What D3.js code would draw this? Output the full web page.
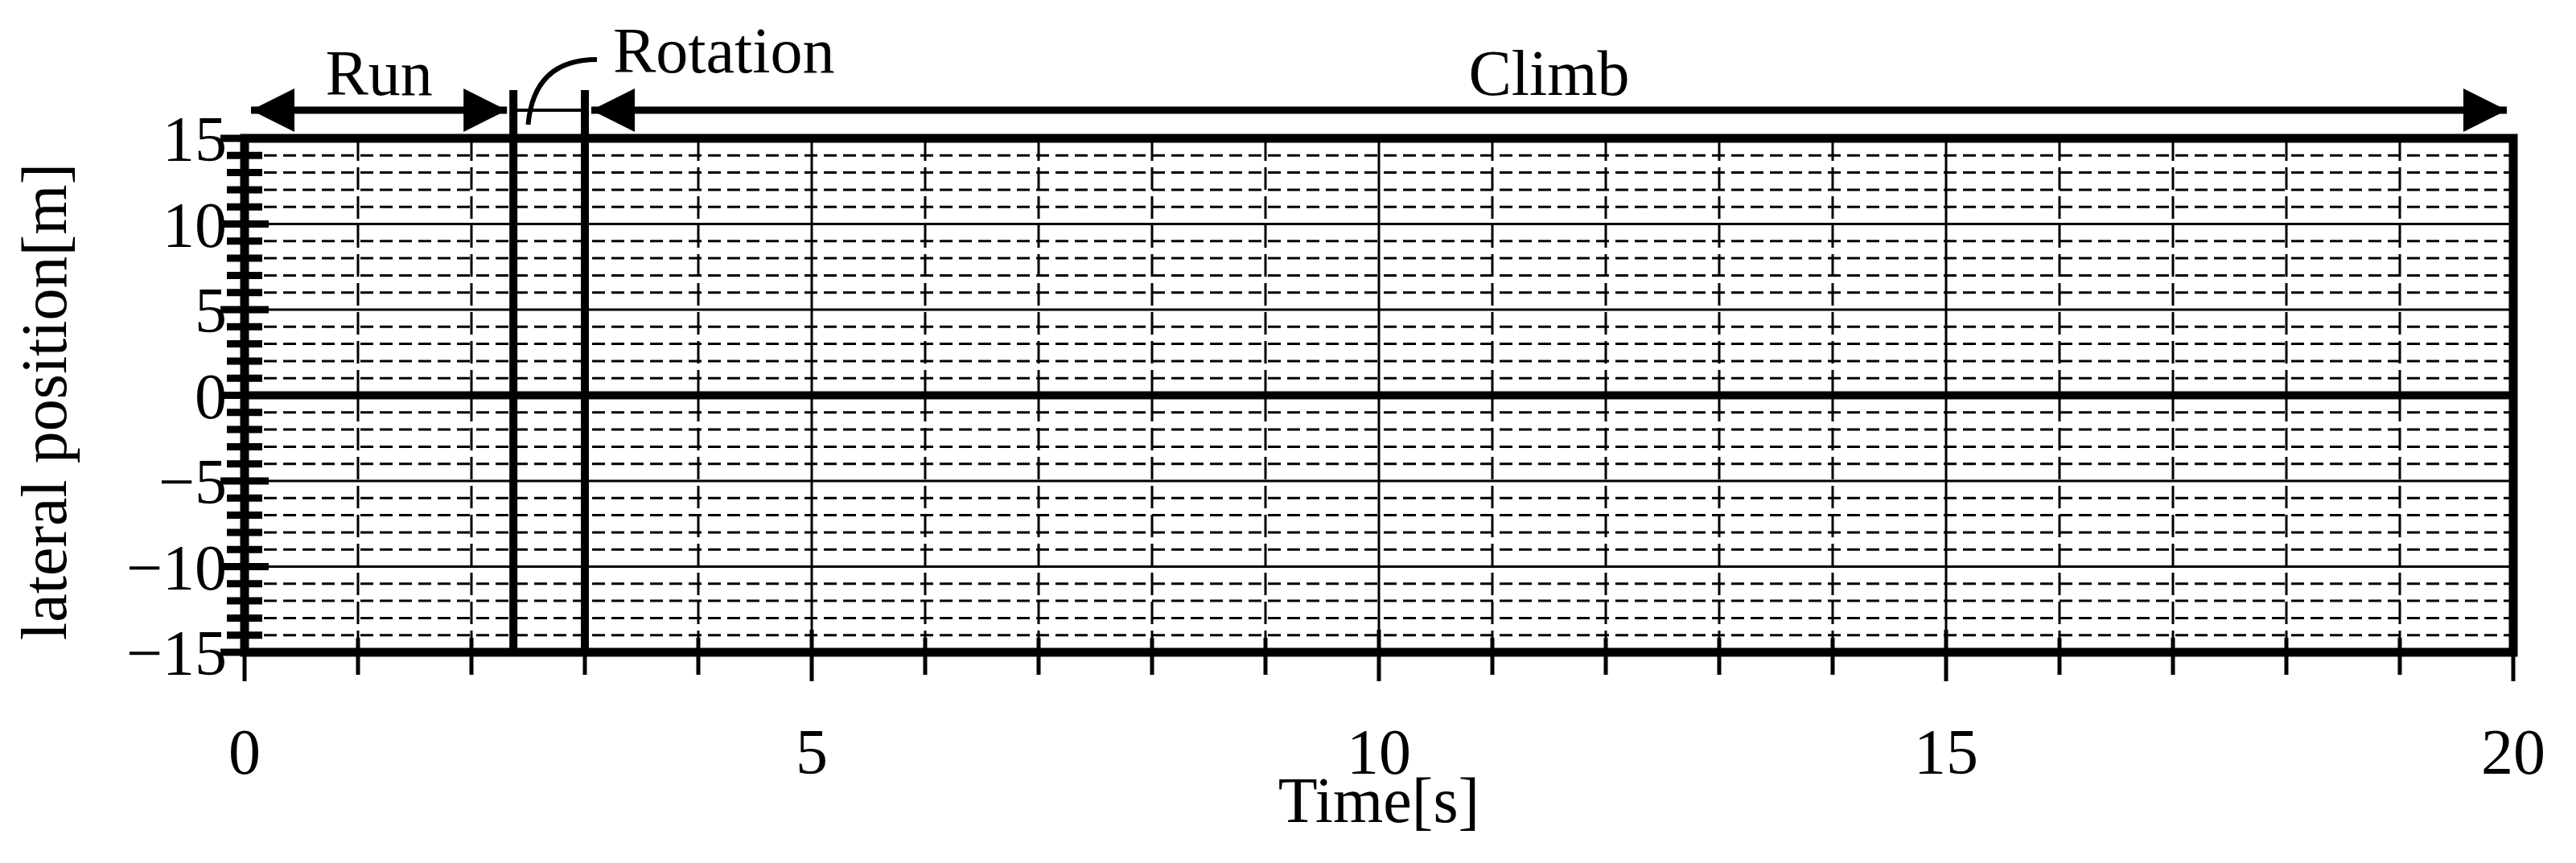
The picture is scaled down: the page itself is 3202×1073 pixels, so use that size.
<!DOCTYPE html>
<html><head><meta charset="utf-8">
<script src="https://cdn.jsdelivr.net/npm/d3@7"></script>
<style>body{margin:0;background:#fff}text{font-family:"Liberation Serif","DejaVu Serif",serif;fill:#000}</style>
</head><body><svg id="chart" width="3202" height="1073"></svg>
<script>
const xDomain = [0, 20];
const yDomain = [-15, 15];
const xLabels = [0, 5, 10, 15, 20];
const yLabels = [-15, -10, -5, 0, 5, 10, 15];
const phaseNames = ["Run", "Rotation", "Climb"];
const phaseBounds = [0, 2.37, 3.0, 20];

const svg = d3.select('#chart');
const x = d3.scaleLinear().domain(xDomain).range([304, 3124]);
const y = d3.scaleLinear().domain(yDomain).range([811, 172]);
const g = svg.append('g');
const fs = 80;

// grid
d3.range(xDomain[0] + 1, xDomain[1]).forEach(v => {
  g.append('line').attr('x1', x(v)).attr('x2', x(v)).attr('y1', y(15)).attr('y2', y(-15))
    .attr('stroke', '#000').attr('stroke-width', 3)
    .attr('stroke-dasharray', v % 5 === 0 ? null : '28,8');
});
d3.range(yDomain[0] + 1, yDomain[1]).forEach(v => {
  g.append('line').attr('x1', x(0)).attr('x2', x(20)).attr('y1', y(v)).attr('y2', y(v))
    .attr('stroke', '#000').attr('stroke-width', v === 0 ? 10 : 3)
    .attr('stroke-dasharray', v % 5 === 0 ? null : '16,8');
});

// y ticks (crossing the axis)
d3.range(yDomain[0], yDomain[1] + 1).forEach(v => {
  const major = v % 5 === 0;
  g.append('line').attr('x1', x(0) - (major ? 30 : 22)).attr('x2', x(0) + (major ? 30 : 22))
    .attr('y1', y(v)).attr('y2', y(v)).attr('stroke', '#000').attr('stroke-width', 9);
});
// x ticks
d3.range(xDomain[0], xDomain[1] + 1).forEach(v => {
  const major = v % 5 === 0;
  g.append('line').attr('x1', x(v)).attr('x2', x(v))
    .attr('y1', y(-15) - (major ? 28 : 18)).attr('y2', y(-15) + (major ? 36 : 28))
    .attr('stroke', '#000').attr('stroke-width', 5);
});

// frame
g.append('rect').attr('x', x(0)).attr('y', y(15)).attr('width', x(20) - x(0)).attr('height', y(-15) - y(15))
  .attr('fill', 'none').attr('stroke', '#000').attr('stroke-width', 11);

// phase boundaries
[phaseBounds[1], phaseBounds[2]].forEach(v => {
  g.append('line').attr('x1', x(v)).attr('x2', x(v)).attr('y1', 112).attr('y2', y(-15))
    .attr('stroke', '#000').attr('stroke-width', 10);
});

// tick labels
g.selectAll('.xl').data(xLabels).enter().append('text')
  .attr('x', d => x(d)).attr('y', 962).attr('text-anchor', 'middle').attr('font-size', fs).text(d => d);
g.selectAll('.yl').data(yLabels).enter().append('text')
  .attr('x', 282).attr('y', d => y(d) + 28).attr('text-anchor', 'end').attr('font-size', fs)
  .text(d => d < 0 ? '\u2212' + Math.abs(d) : d);

g.append('text').attr('x', x(10)).attr('y', 1022).attr('text-anchor', 'middle').attr('font-size', fs).text('Time[s]');
g.append('text').attr('transform', `translate(82,${(y(15) + y(-15)) / 2 + 8}) rotate(-90)`)
  .attr('text-anchor', 'middle').attr('font-size', fs).text('lateral position[m]');

// phase arrows
const defs = svg.append('defs');
defs.append('marker').attr('id', 'ah').attr('viewBox', '0 0 10 10').attr('refX', 10).attr('refY', 5)
  .attr('markerWidth', 6).attr('markerHeight', 6).attr('markerUnits', 'strokeWidth').attr('orient', 'auto-start-reverse')
  .append('path').attr('d', 'M0,0L10,5L0,10Z').attr('fill', '#000');
const arrowY = 137;
[[0, 1], [2, 3]].forEach(([a, b]) => {
  g.append('line').attr('x1', x(phaseBounds[a]) + 8).attr('x2', x(phaseBounds[b]) - 8)
    .attr('y1', arrowY).attr('y2', arrowY).attr('stroke', '#000').attr('stroke-width', 9)
    .attr('marker-start', 'url(#ah)').attr('marker-end', 'url(#ah)');
});
g.append('line').attr('x1', x(phaseBounds[1])).attr('x2', x(phaseBounds[2]))
  .attr('y1', arrowY).attr('y2', arrowY).attr('stroke', '#000').attr('stroke-width', 4);
g.append('text').attr('x', x((phaseBounds[0] + phaseBounds[1]) / 2)).attr('y', 118).attr('text-anchor', 'middle')
  .attr('font-size', fs).text(phaseNames[0]);
g.append('text').attr('x', x((phaseBounds[2] + phaseBounds[3]) / 2)).attr('y', 118).attr('text-anchor', 'middle')
  .attr('font-size', fs).text(phaseNames[2]);
g.append('text').attr('x', 762).attr('y', 90).attr('font-size', fs).text(phaseNames[1]);
g.append('path').attr('d', `M${x(2.5)},${arrowY + 18} Q${x(2.55)},${74} ${742},${74}`)
  .attr('fill', 'none').attr('stroke', '#000').attr('stroke-width', 6);
</script></body></html>
